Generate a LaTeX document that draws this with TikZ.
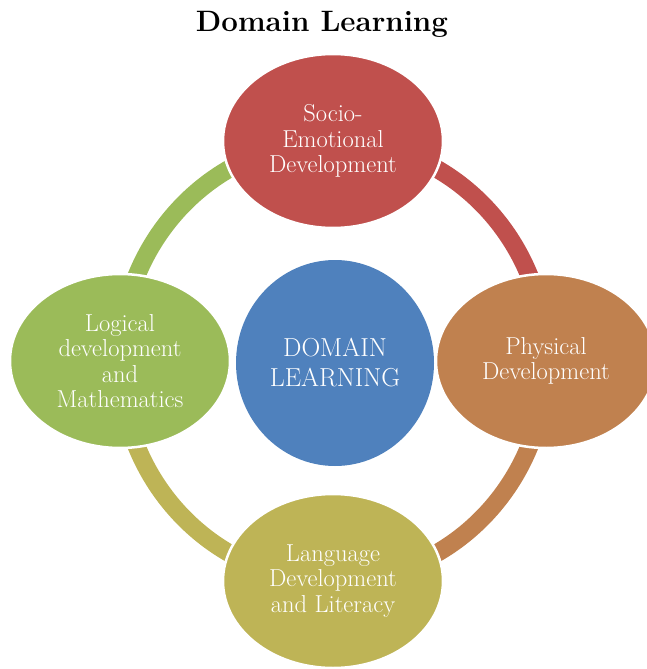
\documentclass[tikz,border=0pt]{standalone}
\usepackage{xcolor}
\usetikzlibrary{shapes.geometric,backgrounds}

\definecolor{sociored}{RGB}{192,80,77}
\definecolor{physorange}{RGB}{192,129,79}
\definecolor{langolive}{RGB}{190,180,86}
\definecolor{logicgreen}{RGB}{155,187,89}
\definecolor{centreblue}{RGB}{79,129,189}

\begin{document}
\begin{tikzpicture}[x=1pt,y=-1pt,
  area node/.style={ellipse,draw=white,line width=2.5pt,text=white,align=center,inner sep=0pt,minimum width=220pt,minimum height=174pt,font=\fontsize{24.5}{25.5}\selectfont},
  ring arc/.style={line width=18pt}]

  \useasboundingbox (0,0) rectangle (647,669);

  \node[anchor=base,font=\fontsize{29.5}{32}\selectfont\bfseries] (title) at (322,32) {Domain Learning};

  \node[area node,fill=sociored] (socio) at (333,141) {Socio-\\Emotional\\Development};
  \node[area node,fill=physorange] (physical) at (546,361) {Physical\\Development};
  \node[area node,fill=langolive] (language) at (333,581) {Language\\Development\\and Literacy};
  \node[area node,fill=logicgreen] (logical) at (120,361) {Logical\\development\\and\\Mathematics};

  \node[ellipse,fill=centreblue,text=white,align=center,inner sep=0pt,minimum width=198pt,minimum height=206pt,font=\fontsize{26}{30}\selectfont] (centre) at (335,363) {DOMAIN\\LEARNING};

  % ring between the four areas
  \begin{scope}[on background layer]
    \draw[ring arc,sociored] (socio.center) arc[start angle=90,end angle=0,x radius=213pt,y radius=220pt];
    \draw[ring arc,physorange] (physical.center) arc[start angle=0,end angle=-90,x radius=213pt,y radius=220pt];
    \draw[ring arc,langolive] (language.center) arc[start angle=-90,end angle=-180,x radius=213pt,y radius=220pt];
    \draw[ring arc,logicgreen] (logical.center) arc[start angle=180,end angle=90,x radius=213pt,y radius=220pt];
  \end{scope}
\end{tikzpicture}
\end{document}
